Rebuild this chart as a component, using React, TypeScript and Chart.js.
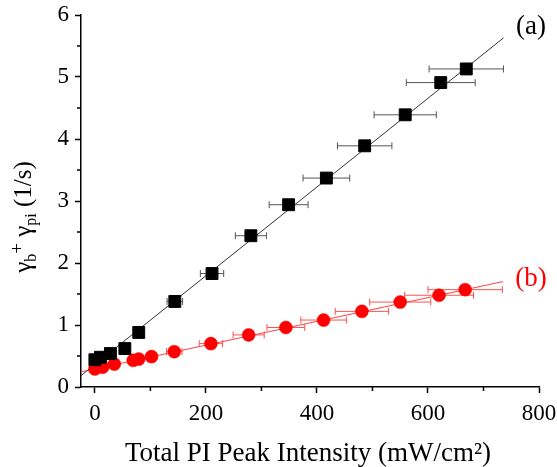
import React, { useEffect, useRef } from "react";
import { Chart, registerables } from "chart.js";
Chart.register(...registerables);

// Series (a): black squares
const aX = [0, 10, 28, 54, 79, 144, 211, 281, 349, 417, 486, 559, 623, 669];
const aY = [0.44, 0.48, 0.54, 0.62, 0.88, 1.38, 1.83, 2.44, 2.94, 3.37, 3.89, 4.39, 4.91, 5.13];
const aXErr = [0, 1, 3, 5, 8, 14, 21, 28, 35, 42, 49, 56, 62, 67];

// Series (b): red circles
const bX = [0, 14, 35, 69, 79, 102, 143, 209, 277, 344, 412, 481, 550, 620, 667];
const bY = [0.29, 0.32, 0.37, 0.43, 0.45, 0.49, 0.57, 0.70, 0.84, 0.96, 1.08, 1.22, 1.37, 1.48, 1.57];
const bXErr = [0, 1.4, 3.5, 7, 8, 10, 14, 21, 28, 34, 41, 48, 55, 62, 67];

// Linear fit end points
const fitAX = [-27, 736];
const fitAY = [0.17, 5.63];
const fitBX = [-27, 735];
const fitBY = [0.24, 1.7];

// Axes
const xTicks = [0, 200, 400, 600, 800];
const xMinor = [100, 300, 500, 700];
const yTicks = [0, 1, 2, 3, 4, 5, 6];
const yMinor = [0.5, 1.5, 2.5, 3.5, 4.5, 5.5];

const FONT = "'Liberation Serif', 'Times New Roman', serif";

export default function App() {
  const ref = useRef<HTMLCanvasElement>(null);

  useEffect(() => {
    const canvas = ref.current!;

    const errorBars = {
      id: "errorBars",
      beforeDatasetsDraw(chart: any) {
        const ctx = chart.ctx;
        const xs = chart.scales.x;
        const ys = chart.scales.y;
        const draw = (X: number[], Y: number[], E: number[], color: string) => {
          ctx.save();
          ctx.strokeStyle = color;
          ctx.lineWidth = 1;
          for (let i = 0; i < X.length; i++) {
            if (E[i] <= 0) continue;
            const y = ys.getPixelForValue(Y[i]);
            const x1 = xs.getPixelForValue(X[i] - E[i]);
            const x2 = xs.getPixelForValue(X[i] + E[i]);
            ctx.beginPath();
            ctx.moveTo(x1, y);
            ctx.lineTo(x2, y);
            ctx.moveTo(x1, y - 3.5);
            ctx.lineTo(x1, y + 3.5);
            ctx.moveTo(x2, y - 3.5);
            ctx.lineTo(x2, y + 3.5);
            ctx.stroke();
          }
          ctx.restore();
        };
        draw(aX, aY, aXErr, "#555555");
        draw(bX, bY, bXErr, "#ff5050");
      },
    };

    const decorations = {
      id: "decorations",
      afterDraw(chart: any) {
        const ctx = chart.ctx;
        const xs = chart.scales.x;
        const ys = chart.scales.y;
        const area = chart.chartArea;
        ctx.save();
        // minor ticks
        ctx.strokeStyle = "#000";
        ctx.lineWidth = 1.5;
        ctx.beginPath();
        xMinor.forEach((v) => {
          const p = xs.getPixelForValue(v);
          ctx.moveTo(p, area.bottom);
          ctx.lineTo(p, area.bottom + 4);
        });
        yMinor.forEach((v) => {
          const p = ys.getPixelForValue(v);
          ctx.moveTo(area.left, p);
          ctx.lineTo(area.left - 4, p);
        });
        ctx.stroke();

        // x title
        ctx.fillStyle = "#000";
        ctx.font = `27px ${FONT}`;
        ctx.textAlign = "center";
        ctx.textBaseline = "alphabetic";
        ctx.fillText("Total PI Peak Intensity (mW/cm\u00B2)", 308, 461);

        // y title with sub/superscripts
        ctx.save();
        ctx.translate(31, 217);
        ctx.rotate(-Math.PI / 2);
        const runs = [
          { t: "\u03B3", s: 25, dy: 0 },
          { t: "b", s: 16, dy: 5 },
          { t: "+", s: 19, dy: -8 },
          { t: " \u03B3", s: 25, dy: 0 },
          { t: "pi", s: 16, dy: 5 },
          { t: " (1/s)", s: 25, dy: 0 },
        ];
        let total = 0;
        const widths = runs.map((r) => {
          ctx.font = `${r.s}px ${FONT}`;
          const w = ctx.measureText(r.t).width;
          total += w;
          return w;
        });
        let cx = -total / 2;
        ctx.textAlign = "left";
        runs.forEach((r, i) => {
          ctx.font = `${r.s}px ${FONT}`;
          ctx.fillText(r.t, cx, r.dy);
          cx += widths[i];
        });
        ctx.restore();

        // panel labels
        ctx.font = `27px ${FONT}`;
        ctx.textAlign = "center";
        ctx.textBaseline = "middle";
        ctx.fillStyle = "#000";
        ctx.fillText("(a)", 531, 27);
        ctx.fillStyle = "#ff0000";
        ctx.fillText("(b)", 531, 279);
        ctx.restore();
      },
    };

    const chart = new Chart(canvas, {
      type: "scatter",
      data: {
        datasets: [
          {
            label: "a",
            data: aX.map((x, i) => ({ x, y: aY[i] })),
            pointStyle: "rect",
            pointRadius: 8.4,
            backgroundColor: "#000",
            borderColor: "#000",
            borderWidth: 1,
          },
          {
            label: "b",
            data: bX.map((x, i) => ({ x, y: bY[i] })),
            pointStyle: "circle",
            pointRadius: 6.5,
            backgroundColor: "#ff0000",
            borderColor: "#ff0000",
            borderWidth: 0.5,
          },
          {
            label: "fit a",
            data: fitAX.map((x, i) => ({ x, y: fitAY[i] })),
            showLine: true,
            pointRadius: 0,
            borderColor: "#333333",
            borderWidth: 1,
          },
          {
            label: "fit b",
            data: fitBX.map((x, i) => ({ x, y: fitBY[i] })),
            showLine: true,
            pointRadius: 0,
            borderColor: "#ff4040",
            borderWidth: 1,
          },
        ],
      },
      options: {
        responsive: false,
        devicePixelRatio: 1,
        animation: false,
        events: [],
        layout: { padding: { left: 0, top: 15, right: 18, bottom: 0 } },
        plugins: { legend: { display: false }, tooltip: { enabled: false } },
        scales: {
          x: {
            type: "linear",
            min: -25,
            max: 800,
            afterBuildTicks: (s: any) => {
              s.ticks = xTicks.map((v) => ({ value: v }));
            },
            afterFit: (s: any) => {
              s.height = 80;
              s.paddingLeft = 0;
              s.paddingRight = 0;
            },
            grid: {
              drawOnChartArea: false,
              drawTicks: true,
              tickLength: 6,
              tickWidth: 1.5,
              tickColor: "#000",
            },
            border: { display: true, color: "#000", width: 1.5 },
            ticks: {
              font: { family: FONT, size: 23 },
              color: "#000",
              padding: 7,
              maxRotation: 0,
              autoSkip: false,
            },
          },
          y: {
            type: "linear",
            min: 0,
            max: 6,
            afterBuildTicks: (s: any) => {
              s.ticks = yTicks.map((v) => ({ value: v }));
            },
            afterFit: (s: any) => {
              s.width = 81;
              s.paddingTop = 0;
              s.paddingBottom = 0;
            },
            grid: {
              drawOnChartArea: false,
              drawTicks: true,
              tickLength: 6,
              tickWidth: 1.5,
              tickColor: "#000",
            },
            border: { display: true, color: "#000", width: 1.5 },
            ticks: {
              font: { family: FONT, size: 23 },
              color: "#000",
              padding: 6,
              autoSkip: false,
            },
          },
        },
      },
      plugins: [errorBars, decorations],
    } as any);

    return () => chart.destroy();
  }, []);

  return (
    <div style={{ position: "fixed", left: 0, top: 0, width: 557, height: 467, background: "#fff" }}>
      <canvas ref={ref} width={557} height={467} style={{ display: "block", width: 557, height: 467 }} />
    </div>
  );
}
